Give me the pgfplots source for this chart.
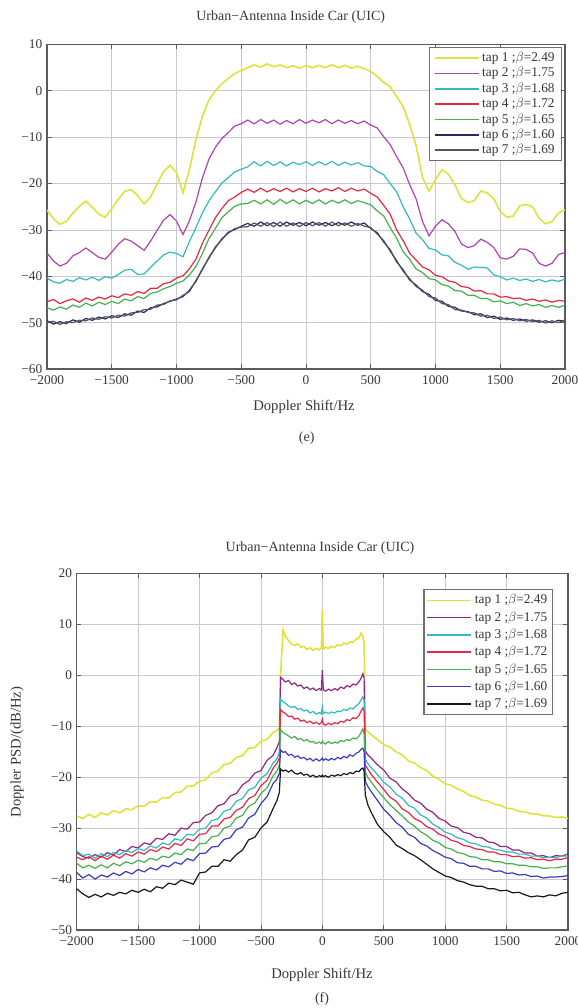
\documentclass[border=0pt]{standalone}
\usepackage{fontspec}
\setmainfont{Liberation Serif}
\usepackage{pgfplots}
\pgfplotsset{compat=1.18}
\usepackage{pgfplotstable}

\definecolor{gridc}{RGB}{200,200,215}
\definecolor{framec}{RGB}{90,90,95}
\definecolor{textc}{RGB}{55,55,55}
\definecolor{legc}{RGB}{110,110,110}
\definecolor{cA}{RGB}{222,226,60}
\definecolor{cBtop}{RGB}{172,70,172}
\definecolor{cBbot}{RGB}{140,40,130}
\definecolor{cC}{RGB}{50,185,195}
\definecolor{cD}{RGB}{228,40,70}
\definecolor{cE}{RGB}{70,175,80}
\definecolor{cFtop}{RGB}{40,40,100}
\definecolor{cFbot}{RGB}{60,60,190}
\definecolor{cGtop}{RGB}{85,85,95}
\definecolor{cGbot}{RGB}{25,25,25}

\pgfplotstableread{
x t1 t2 t3 t4 t5 t6 t7
-2000 -25.7 -35.0 -40.4 -45.5 -46.8 -49.6 -49.9
-1950 -27.6 -36.7 -41.2 -45.0 -47.3 -50.3 -49.7
-1900 -28.8 -37.8 -41.5 -45.9 -46.6 -49.8 -50.4
-1850 -28.1 -37.2 -40.7 -45.3 -47.1 -50.2 -49.8
-1800 -26.4 -35.6 -41.1 -44.9 -46.2 -49.4 -50.0
-1750 -24.9 -34.9 -40.3 -45.6 -46.7 -49.9 -49.5
-1700 -23.8 -33.9 -40.8 -44.7 -45.8 -49.1 -49.6
-1650 -25.1 -34.9 -40.2 -45.2 -46.4 -49.5 -49.0
-1600 -26.6 -35.9 -40.9 -44.5 -45.6 -48.8 -49.3
-1550 -27.3 -36.3 -40.1 -44.9 -46.1 -49.2 -48.7
-1500 -25.4 -34.8 -40.4 -44.2 -45.4 -48.5 -49.0
-1450 -23.4 -33.1 -39.6 -44.6 -45.9 -48.9 -48.4
-1400 -21.7 -31.9 -38.7 -43.8 -44.9 -48.1 -48.6
-1350 -21.3 -32.4 -38.5 -44.1 -45.3 -48.4 -47.9
-1300 -22.6 -33.4 -39.6 -43.3 -44.4 -47.5 -47.8
-1250 -24.4 -34.4 -39.5 -43.7 -44.8 -47.8 -47.2
-1200 -22.9 -32.4 -38.1 -42.6 -43.7 -46.8 -47.1
-1150 -20.1 -30.1 -36.7 -42.6 -43.4 -46.6 -46.2
-1100 -17.4 -27.9 -35.4 -41.6 -42.7 -45.9 -46.1
-1050 -16.1 -26.7 -34.8 -41.3 -42.2 -45.4 -45.3
-1000 -17.6 -28.1 -35.1 -40.4 -41.5 -44.9 -45.1
-950 -22.0 -31.0 -35.8 -39.9 -41.0 -44.4 -44.1
-900 -17.0 -28.0 -32.5 -38.4 -39.7 -43.0 -43.3
-850 -10.5 -24.0 -29.5 -36.3 -37.9 -41.1 -40.9
-800 -5.5 -18.8 -26.3 -32.9 -35.1 -38.4 -38.6
-750 -2.0 -14.8 -23.8 -30.1 -31.9 -36.1 -35.9
-700 0.0 -12.2 -21.8 -27.4 -29.7 -33.7 -33.9
-650 1.5 -10.3 -19.9 -25.4 -27.4 -32.1 -31.9
-600 2.7 -9.0 -18.7 -23.7 -26.1 -30.5 -30.7
-550 3.7 -7.6 -17.5 -22.9 -24.9 -29.9 -29.7
-500 4.4 -7.1 -16.9 -21.9 -24.4 -29.2 -29.4
-450 5.0 -6.3 -16.4 -21.2 -24.3 -28.6 -29.3
-400 5.6 -7.1 -15.3 -21.9 -23.6 -29.2 -28.5
-350 5.1 -6.2 -16.2 -21.0 -24.4 -28.3 -29.2
-300 5.8 -7.0 -15.2 -21.8 -23.5 -29.1 -28.4
-250 5.2 -6.3 -16.1 -21.1 -24.5 -28.4 -29.3
-200 5.6 -7.2 -15.3 -21.7 -23.4 -29.2 -28.3
-150 5.0 -6.4 -16.2 -21.0 -24.3 -28.3 -29.2
-100 5.4 -7.1 -15.4 -21.8 -23.5 -29.0 -28.5
-50 4.9 -6.2 -15.9 -21.1 -24.4 -28.4 -29.3
0 5.4 -7.0 -15.3 -21.7 -23.6 -29.1 -28.4
50 5.0 -6.3 -16.1 -21.0 -24.3 -28.3 -29.1
100 5.5 -6.9 -15.3 -21.8 -23.5 -29.0 -28.4
150 5.0 -6.2 -16.0 -21.1 -24.4 -28.4 -29.2
200 5.6 -7.1 -15.2 -21.6 -23.6 -29.1 -28.3
250 5.0 -6.3 -16.1 -20.9 -24.2 -28.4 -29.1
300 5.5 -7.0 -15.4 -21.7 -23.5 -29.0 -28.5
350 4.9 -6.4 -16.0 -21.0 -24.3 -28.3 -29.2
400 5.3 -7.1 -15.5 -21.6 -23.7 -29.0 -28.6
450 4.8 -6.5 -16.2 -21.2 -24.1 -28.5 -29.2
500 4.2 -7.4 -16.3 -22.1 -24.6 -29.7 -29.5
550 3.1 -8.0 -17.4 -22.9 -25.9 -30.6 -30.9
600 1.8 -9.9 -18.1 -24.7 -27.0 -32.6 -32.3
650 0.9 -11.6 -20.0 -26.6 -29.5 -34.3 -34.6
700 -1.2 -14.2 -21.8 -30.0 -31.8 -36.9 -36.6
750 -3.4 -16.6 -25.0 -32.3 -34.7 -38.6 -38.9
800 -7.2 -20.2 -27.6 -35.0 -36.3 -40.8 -40.5
850 -11.8 -23.3 -30.7 -36.5 -38.4 -41.9 -42.2
900 -18.7 -28.2 -32.1 -38.0 -39.2 -43.3 -43.0
950 -21.6 -31.3 -34.0 -38.6 -40.5 -43.9 -44.4
1000 -19.2 -29.2 -34.3 -39.8 -40.8 -45.2 -44.7
1050 -17.0 -27.8 -35.4 -40.1 -41.8 -45.4 -45.9
1100 -18.0 -28.7 -35.6 -41.0 -42.1 -46.5 -46.1
1150 -20.3 -30.3 -37.0 -41.3 -43.1 -46.7 -47.2
1200 -23.2 -33.0 -37.6 -42.2 -43.2 -47.5 -47.3
1250 -24.1 -33.8 -38.5 -42.4 -44.1 -47.6 -47.8
1300 -23.7 -33.4 -38.0 -43.2 -44.1 -48.3 -47.9
1350 -21.6 -32.0 -38.1 -43.1 -44.8 -48.1 -48.6
1400 -22.0 -32.7 -38.2 -43.8 -44.8 -48.9 -48.4
1450 -23.3 -33.8 -39.7 -43.8 -45.5 -48.6 -49.1
1500 -26.0 -36.0 -40.1 -44.5 -45.3 -49.3 -48.8
1550 -27.3 -36.3 -40.8 -44.4 -45.9 -49.0 -49.4
1600 -27.0 -35.7 -40.4 -44.8 -45.6 -49.5 -49.1
1650 -24.8 -34.1 -40.9 -44.7 -46.3 -49.2 -49.6
1700 -24.5 -34.2 -40.6 -45.2 -45.9 -49.7 -49.3
1750 -25.0 -35.0 -41.1 -44.9 -46.4 -49.4 -49.8
1800 -27.5 -37.2 -40.7 -45.4 -46.1 -49.9 -49.5
1850 -28.7 -37.8 -41.2 -45.1 -46.7 -49.6 -50.1
1900 -28.2 -37.2 -40.8 -45.6 -46.3 -50.0 -49.6
1950 -26.3 -35.3 -41.1 -45.2 -46.7 -49.5 -50.0
2000 -25.7 -34.9 -40.6 -45.4 -46.2 -49.7 -49.4
}\topdata

\pgfplotstableread{
x t1 t2 t3 t4 t5 t6 t7
-2000 -27.6 -34.8 -34.5 -35.7 -36.9 -38.7 -41.9
-1950 -28.1 -35.6 -35.4 -36.2 -37.8 -39.8 -42.9
-1900 -27.3 -35.9 -35.1 -35.6 -37.3 -39.1 -43.6
-1850 -27.9 -35.2 -35.9 -36.4 -37.9 -40.0 -43.0
-1800 -27.0 -35.7 -35.0 -35.5 -37.2 -39.2 -43.5
-1750 -27.4 -34.8 -35.6 -36.1 -37.8 -39.6 -42.8
-1700 -26.6 -35.3 -34.8 -35.3 -36.9 -38.8 -43.2
-1650 -27.0 -34.2 -35.2 -35.9 -37.4 -39.3 -42.6
-1600 -26.2 -34.6 -34.4 -35.0 -36.6 -38.5 -42.9
-1550 -26.4 -33.6 -34.8 -35.5 -37.0 -39.0 -42.2
-1500 -25.6 -33.9 -34.0 -34.7 -36.3 -38.1 -42.6
-1450 -25.7 -32.9 -34.4 -35.1 -36.7 -38.6 -42.0
-1400 -24.8 -33.2 -33.5 -34.2 -35.9 -37.8 -42.5
-1350 -24.9 -32.0 -33.9 -34.6 -36.3 -38.2 -41.5
-1300 -24.0 -32.2 -32.9 -33.7 -35.5 -37.3 -41.8
-1250 -24.1 -31.1 -33.3 -34.1 -35.8 -37.6 -40.8
-1200 -23.0 -31.4 -32.1 -33.0 -34.9 -36.7 -41.1
-1150 -22.9 -30.0 -32.4 -33.4 -35.2 -37.1 -40.2
-1100 -21.8 -30.2 -31.2 -32.1 -34.1 -36.0 -40.6
-1050 -21.7 -28.9 -31.4 -32.5 -34.4 -36.4 -41.0
-1000 -20.8 -28.8 -30.2 -31.2 -33.0 -35.0 -38.8
-950 -20.5 -27.5 -30.0 -31.1 -33.0 -34.9 -38.6
-900 -19.2 -27.0 -28.5 -29.6 -31.7 -33.7 -37.5
-850 -18.8 -25.6 -28.2 -29.6 -31.5 -33.6 -37.5
-800 -17.5 -25.2 -26.7 -28.2 -30.0 -32.2 -36.2
-750 -17.3 -23.7 -26.3 -27.9 -29.6 -31.9 -36.5
-700 -16.1 -23.2 -24.7 -26.5 -28.0 -30.3 -35.2
-650 -15.8 -21.5 -24.2 -25.9 -27.5 -29.8 -34.3
-600 -14.3 -20.7 -22.5 -24.2 -25.7 -28.0 -32.3
-550 -14.2 -19.2 -22.0 -23.6 -25.1 -27.3 -31.8
-500 -12.9 -18.7 -20.2 -21.7 -23.2 -25.2 -30.0
-450 -12.6 -16.7 -19.3 -20.6 -22.1 -23.8 -28.8
-400 -11.2 -15.7 -17.2 -18.2 -19.7 -21.2 -26.1
-370 -10.8 -14.2 -16.4 -17.3 -18.8 -20.4 -24.6
-350 -10.3 -13.0 -15.2 -16.2 -17.6 -19.2 -23.0
-340 0.0 -0.4 -4.6 -6.7 -10.6 -14.6 -18.4
-320 8.9 -0.8 -5.2 -7.2 -11.3 -15.1 -18.8
-300 7.6 -1.3 -5.5 -7.5 -11.5 -15.0 -18.6
-275 6.8 -1.0 -6.0 -8.1 -11.9 -15.7 -19.0
-250 6.1 -1.8 -6.3 -8.0 -12.3 -15.5 -18.6
-225 5.9 -1.5 -6.1 -8.6 -12.0 -16.1 -19.2
-200 6.2 -2.1 -6.7 -8.4 -12.6 -15.8 -19.4
-175 5.5 -1.9 -6.5 -9.0 -12.4 -16.3 -19.1
-150 5.7 -2.6 -7.0 -8.8 -12.9 -16.1 -19.6
-125 5.1 -2.3 -6.8 -9.3 -12.6 -16.6 -19.4
-100 5.4 -2.8 -7.4 -9.0 -13.1 -16.3 -19.9
-75 4.9 -2.5 -7.1 -9.5 -13.0 -16.8 -19.6
-50 5.3 -3.0 -7.6 -9.2 -13.4 -16.4 -20.0
-25 5.0 -2.6 -7.3 -9.6 -13.1 -16.8 -19.7
-8 5.4 -2.9 -7.6 -9.3 -13.4 -16.5 -19.9
0 12.8 1.0 -6.2 -8.6 -12.9 -16.2 -19.6
8 5.2 -2.8 -7.5 -9.5 -13.2 -16.7 -19.9
25 5.5 -3.1 -7.2 -9.8 -13.5 -16.4 -19.7
50 5.3 -2.7 -7.5 -9.4 -13.0 -16.7 -20.0
75 5.7 -3.0 -7.2 -9.7 -13.4 -16.3 -19.6
100 5.5 -2.6 -7.4 -9.3 -13.1 -16.6 -19.8
125 6.0 -2.9 -7.0 -9.5 -13.3 -16.1 -19.5
150 5.8 -2.3 -7.1 -9.0 -12.8 -16.4 -19.7
175 6.3 -2.6 -6.7 -9.2 -13.0 -15.9 -19.3
200 6.1 -2.0 -6.9 -8.7 -12.6 -16.2 -19.5
225 6.6 -2.3 -6.4 -8.9 -12.8 -15.6 -19.1
250 6.5 -1.7 -6.6 -8.3 -12.3 -15.9 -19.3
275 7.1 -1.9 -6.0 -8.5 -12.5 -15.3 -18.8
300 7.4 -1.2 -5.5 -7.8 -11.9 -15.0 -18.9
315 8.3 -0.6 -4.8 -7.0 -11.2 -14.5 -18.4
330 7.6 0.3 -4.2 -6.4 -10.5 -14.3 -18.2
340 6.5 -0.5 -4.9 -6.9 -11.5 -15.0 -18.9
350 -10.7 -14.8 -16.5 -17.6 -19.0 -20.8 -23.5
370 -11.0 -15.6 -17.3 -18.4 -20.0 -21.8 -25.4
400 -11.7 -16.3 -18.2 -19.5 -21.0 -22.9 -27.0
450 -12.6 -17.6 -19.5 -21.0 -22.6 -24.6 -29.3
500 -13.6 -18.6 -21.0 -22.4 -24.0 -26.3 -30.7
550 -14.1 -20.2 -21.9 -23.9 -25.4 -27.5 -31.8
600 -15.0 -20.9 -23.3 -24.7 -26.5 -28.9 -33.3
650 -15.6 -22.3 -24.1 -26.2 -27.6 -29.8 -34.0
700 -16.8 -23.2 -25.5 -26.9 -28.8 -31.2 -34.8
750 -17.2 -24.5 -26.1 -28.1 -29.6 -31.8 -35.4
800 -18.1 -25.1 -27.4 -28.7 -30.7 -33.0 -36.2
850 -18.7 -26.3 -28.0 -29.7 -31.4 -33.5 -37.1
900 -19.8 -26.9 -29.2 -30.2 -32.4 -34.4 -38.0
950 -20.4 -28.1 -29.9 -31.2 -32.9 -35.0 -38.7
1000 -21.3 -28.6 -30.8 -31.6 -33.8 -35.7 -39.4
1050 -21.6 -29.6 -31.2 -32.4 -34.1 -36.0 -39.7
1100 -22.3 -29.9 -31.9 -32.7 -34.8 -36.8 -40.3
1150 -22.8 -30.8 -32.2 -33.4 -35.0 -36.9 -40.6
1200 -23.6 -31.1 -32.9 -33.6 -35.6 -37.5 -41.1
1250 -23.9 -31.8 -33.1 -34.1 -35.7 -37.5 -41.4
1300 -24.5 -31.9 -33.6 -34.2 -36.2 -38.0 -41.4
1350 -24.7 -32.7 -33.7 -34.7 -36.2 -38.0 -41.9
1400 -25.3 -32.9 -34.2 -34.7 -36.6 -38.5 -41.9
1450 -25.5 -33.6 -34.3 -35.2 -36.6 -38.4 -42.3
1500 -26.1 -33.6 -34.7 -35.2 -37.0 -38.9 -42.2
1550 -26.2 -34.3 -34.7 -35.6 -37.0 -38.8 -42.7
1600 -26.7 -34.3 -35.1 -35.5 -37.3 -39.2 -42.6
1650 -26.8 -34.9 -35.1 -35.9 -37.3 -39.1 -43.1
1700 -27.2 -34.9 -35.5 -35.8 -37.6 -39.5 -43.5
1750 -27.2 -35.5 -35.5 -36.2 -37.6 -39.4 -43.3
1800 -27.6 -35.4 -35.8 -36.1 -37.9 -39.8 -43.5
1850 -27.6 -35.8 -35.7 -36.4 -37.8 -39.6 -43.1
1900 -27.9 -35.4 -35.8 -36.1 -37.8 -39.6 -43.3
1950 -27.8 -35.5 -35.5 -36.1 -37.6 -39.5 -42.8
2000 -28.1 -35.1 -35.5 -35.8 -37.4 -39.3 -42.6
}\botdata

\pgfplotsset{
  legend image code/.code={\draw[#1, line width=1.25pt] (0pt,0pt) -- (33pt,0pt);},
  mystyle/.style={
    scale only axis,
    xmin=-2000, xmax=2000,
    xtick={-2000,-1500,...,2000},
    xticklabels={−2000,−1500,−1000,−500,0,500,1000,1500,2000},
    grid=major,
    grid style={gridc, line width=0.5pt},
    axis line style={framec, line width=0.8pt},
    tick align=inside,
    major tick length=3.5pt,
    tick style={framec, line width=0.6pt},
    tick label style={font=\fontsize{10}{12}\selectfont, text=textc},
    xticklabel style={yshift=-1.5pt},
    legend cell align=left,
    every axis plot/.append style={line width=0.9pt},
  }
}

\begin{document}
\begin{tikzpicture}
\useasboundingbox (0,0) rectangle (433.5pt,756pt);

\begin{axis}[mystyle,
  at={(35.25pt,479.25pt)}, anchor=south west,
  width=388.5pt, height=243.4pt,
  ymin=-60, ymax=10,
  ytick={-60,-50,...,10},
  yticklabels={−60,−50,−40,−30,−20,−10,0,10},
  legend style={at={(0.994,0.992)}, anchor=north east,
    draw=legc, line width=0.9pt, font=\fontsize{10}{11}\selectfont,
    text=textc, inner xsep=3pt, inner ysep=1.5pt, row sep=-0.9pt},
]
\addplot[cA, line width=1.2pt] table[x=x,y=t1]{\topdata};
\addlegendentry{tap 1 ;$\beta$=2.49}
\addplot[cBtop] table[x=x,y=t2]{\topdata};
\addlegendentry{tap 2 ;$\beta$=1.75}
\addplot[cC] table[x=x,y=t3]{\topdata};
\addlegendentry{tap 3 ;$\beta$=1.68}
\addplot[cD] table[x=x,y=t4]{\topdata};
\addlegendentry{tap 4 ;$\beta$=1.72}
\addplot[cE] table[x=x,y=t5]{\topdata};
\addlegendentry{tap 5 ;$\beta$=1.65}
\addplot[cFtop] table[x=x,y=t6]{\topdata};
\addlegendentry{tap 6 ;$\beta$=1.60}
\addplot[cGtop] table[x=x,y=t7]{\topdata};
\addlegendentry{tap 7 ;$\beta$=1.69}
\end{axis}

\begin{axis}[mystyle,
  at={(57.5pt,58.5pt)}, anchor=south west,
  width=368.5pt, height=267.4pt,
  ymin=-50, ymax=20,
  ytick={-50,-40,...,20},
  yticklabels={−50,−40,−30,−20,−10,0,10,20},
  legend style={at={(0.97,0.957)}, anchor=north east,
    draw=legc, line width=0.9pt, font=\fontsize{10}{11}\selectfont,
    text=textc, inner xsep=2pt, inner ysep=2pt, row sep=0.5pt},
]
\addplot[cA, line width=1.2pt] table[x=x,y=t1]{\botdata};
\addlegendentry{tap 1 ;$\beta$=2.49}
\addplot[cBbot] table[x=x,y=t2]{\botdata};
\addlegendentry{tap 2 ;$\beta$=1.75}
\addplot[cC] table[x=x,y=t3]{\botdata};
\addlegendentry{tap 3 ;$\beta$=1.68}
\addplot[cD] table[x=x,y=t4]{\botdata};
\addlegendentry{tap 4 ;$\beta$=1.72}
\addplot[cE] table[x=x,y=t5]{\botdata};
\addlegendentry{tap 5 ;$\beta$=1.65}
\addplot[cFbot] table[x=x,y=t6]{\botdata};
\addlegendentry{tap 6 ;$\beta$=1.60}
\addplot[cGbot] table[x=x,y=t7]{\botdata};
\addlegendentry{tap 7 ;$\beta$=1.69}
\end{axis}

\node[text=textc, font=\fontsize{10.5}{12}\selectfont] at (218pt,743.25pt) {Urban−Antenna Inside Car (UIC)};
\node[text=textc, font=\fontsize{11}{13}\selectfont] at (228pt,450.75pt) {Doppler Shift/Hz};
\node[text=textc, font=\fontsize{10.5}{12}\selectfont] at (230pt,427.5pt) {(e)};

\node[text=textc, font=\fontsize{10.5}{12}\selectfont] at (240pt,345pt) {Urban−Antenna Inside Car (UIC)};
\node[text=textc, font=\fontsize{11}{13}\selectfont] at (241.5pt,24.75pt) {Doppler Shift/Hz};
\node[text=textc, font=\fontsize{10.5}{12}\selectfont] at (241.5pt,6.5pt) {(f)};
\node[text=textc, font=\fontsize{11}{13}\selectfont, rotate=90] at (12.75pt,192pt) {Doppler PSD/(dB/Hz)};
\end{tikzpicture}
\end{document}
